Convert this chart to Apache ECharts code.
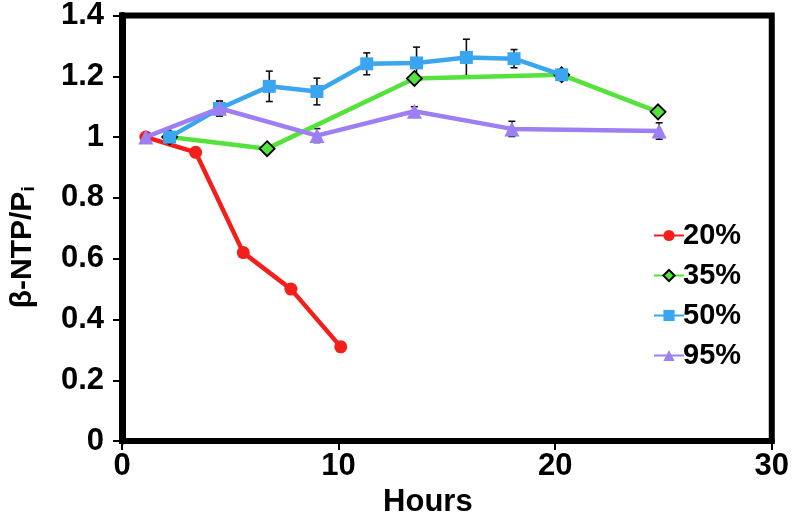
<!DOCTYPE html>
<html>
<head>
<meta charset="utf-8">
<script src="https://cdn.jsdelivr.net/npm/echarts@6/dist/echarts.min.js"></script>
<style>html,body{margin:0;padding:0;background:#fff}#c{width:792px;height:523px}</style>
</head>
<body>
<div id="c"></div>
<script>
// ---- data ----
const seriesNames = ['20%', '35%', '50%', '95%'];
const hours20 = [1.1, 3.4, 5.6, 7.8, 10.1];
const vals20  = [1.0, 0.95, 0.62, 0.50, 0.31];
const hours35 = [2.2, 6.7, 13.5, 20.3, 24.75];
const vals35  = [1.0, 0.962, 1.193, 1.205, 1.083];
const hours50 = [2.2, 4.5, 6.8, 9.0, 11.3, 13.6, 15.9, 18.1, 20.3];
const vals50  = [1.0, 1.094, 1.167, 1.150, 1.241, 1.244, 1.262, 1.258, 1.205];
const err50   = [0.015, 0.025, 0.05, 0.044, 0.036, 0.052, 0.06, 0.03, 0.012];
const hours95 = [1.1, 4.5, 9.0, 13.5, 18.0, 24.8];
const vals95  = [1.0, 1.095, 1.005, 1.085, 1.027, 1.020];
const err95   = [0.0, 0.02, 0.023, 0.015, 0.025, 0.027];
const xTicks = [0, 10, 20, 30];
const yTicks = [0, 0.2, 0.4, 0.6, 0.8, 1, 1.2, 1.4];

const colors = ['#f41f1a', '#55e23c', '#3aa6f0', '#9d7ff3'];
const FONT = 'Liberation Sans, Arial, sans-serif';

function pairs(xs, ys) { return xs.map((x, i) => [x, ys[i]]); }
function errData(xs, ys, es) {
  return xs.map((x, i) => [x, ys[i] - es[i], ys[i] + es[i]]).filter((d, i) => es[i] > 0);
}
function errSeries(data) {
  return {
    type: 'custom',
    data: data,
    z: 1,
    silent: true,
    renderItem: function (params, api) {
      const x = api.value(0);
      const lo = api.coord([x, api.value(1)]);
      const hi = api.coord([x, api.value(2)]);
      const w = 3.5;
      const st = { stroke: '#111', lineWidth: 1.6 };
      return {
        type: 'group',
        children: [
          { type: 'line', shape: { x1: lo[0], y1: lo[1], x2: hi[0], y2: hi[1] }, style: st },
          { type: 'line', shape: { x1: lo[0] - w, y1: lo[1], x2: lo[0] + w, y2: lo[1] }, style: st },
          { type: 'line', shape: { x1: hi[0] - w, y1: hi[1], x2: hi[0] + w, y2: hi[1] }, style: st }
        ]
      };
    }
  };
}

const chart = echarts.init(document.getElementById('c'), null, { renderer: 'canvas' });
chart.setOption({
  animation: false,
  backgroundColor: '#fff',
  textStyle: { fontFamily: FONT },
  grid: { left: 121, right: 15, top: 10, bottom: 80, show: true, borderColor: '#000', borderWidth: 6, backgroundColor: 'transparent' },
  legend: {
    orient: 'vertical',
    left: 648,
    top: 216,
    itemGap: 11,
    itemWidth: 30,
    itemHeight: 14,
    data: seriesNames,
    textStyle: { fontSize: 29, fontWeight: 'bold', color: '#000', fontFamily: FONT, padding: [0, 0, 0, -6] }
  },
  xAxis: {
    type: 'value',
    min: xTicks[0], max: xTicks[xTicks.length - 1], interval: 10,
    name: 'Hours',
    nameLocation: 'middle',
    nameGap: 42,
    nameTextStyle: { fontSize: 31, fontWeight: 'bold', color: '#000', fontFamily: FONT, padding: [0, 38, 0, 0] },
    axisLine: { show: true, lineStyle: { color: '#000', width: 6 } },
    axisTick: { show: true, length: 9, lineStyle: { color: '#000', width: 2 } },
    axisLabel: { fontSize: 31, fontWeight: 'bold', color: '#000', margin: 10, fontFamily: FONT },
    splitLine: { show: false }
  },
  yAxis: {
    type: 'value',
    min: yTicks[0], max: yTicks[yTicks.length - 1], interval: 0.2,
    name: '{a|β-NTP/P}{s|i}',
    nameLocation: 'middle',
    nameGap: 84,
    nameTextStyle: {
      color: '#000',
      padding: [0, 38, 0, 0],
      rich: {
        a: { fontSize: 30, fontWeight: 'bold', color: '#000', fontFamily: FONT, verticalAlign: 'bottom', lineHeight: 32 },
        s: { fontSize: 19, fontWeight: 'bold', color: '#000', fontFamily: FONT, verticalAlign: 'bottom', lineHeight: 32, padding: [11, 0, 0, 0] }
      }
    },
    axisLine: { show: true, lineStyle: { color: '#000', width: 7 } },
    axisTick: { show: true, length: 9, lineStyle: { color: '#000', width: 2 } },
    axisLabel: { fontSize: 31, fontWeight: 'bold', color: '#000', margin: 18, fontFamily: FONT },
    splitLine: { show: false }
  },
  series: [
    errSeries(errData(hours50, vals50, err50)),
    errSeries(errData(hours95, vals95, err95)),
    { name: '20%', type: 'line', data: pairs(hours20, vals20), z: 2,
      symbol: 'circle', symbolSize: 13,
      lineStyle: { color: colors[0], width: 4.5 }, itemStyle: { color: colors[0] } },
    { name: '35%', type: 'line', data: pairs(hours35, vals35), z: 3,
      symbol: 'diamond', symbolSize: 15,
      lineStyle: { color: colors[1], width: 4.5 }, itemStyle: { color: colors[1], borderColor: '#000', borderWidth: 1.8 } },
    { name: '50%', type: 'line', data: pairs(hours50, vals50), z: 4,
      symbol: 'rect', symbolSize: 13,
      lineStyle: { color: colors[2], width: 4.5 }, itemStyle: { color: colors[2] } },
    { name: '95%', type: 'line', data: pairs(hours95, vals95), z: 5,
      symbol: 'triangle', symbolSize: 15,
      lineStyle: { color: colors[3], width: 4.5 }, itemStyle: { color: colors[3] } }
  ]
});
</script>
</body>
</html>
